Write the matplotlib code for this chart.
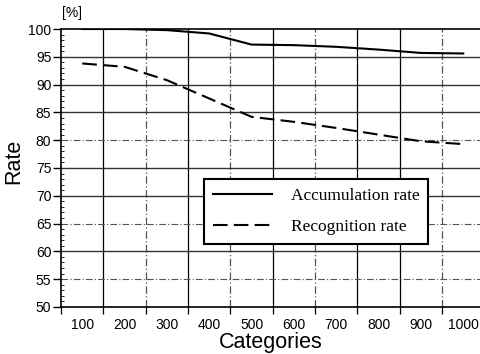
import matplotlib
matplotlib.use("Agg")
import matplotlib.pyplot as plt
from matplotlib.ticker import MultipleLocator, FixedLocator, NullFormatter

categories = ["100", "200", "300", "400", "500", "600", "700", "800", "900", "1000"]
accumulationRate = [100.0, 100.0, 99.8, 99.2, 97.2, 97.1, 96.8, 96.3, 95.7, 95.6]
recognitionRate = [93.8, 93.2, 90.8, 87.5, 84.2, 83.3, 82.2, 81.0, 79.8, 79.3]

plt.rcParams["font.family"] = ["Liberation Sans", "DejaVu Sans"]

fig = plt.figure(figsize=(4.81, 3.54), dpi=100)
ax = fig.add_axes([0.127, 0.133, 0.873, 0.785])

xPos = list(range(1, len(categories) + 1))

# grid, drawn by hand so the scan's mixed line styles can be copied
for gx in [1.5, 3.5, 5.5, 7.5, 8.5]:
    ax.axvline(gx, color="black", lw=0.9, zorder=1)
for gx in [2.5, 4.5, 6.5, 9.5]:
    ax.axvline(gx, color="#555555", lw=0.9, ls=(0, (6, 2, 1, 2)), zorder=1)
for gy in [95, 90, 85, 75, 70, 60]:
    ax.axhline(gy, color="#333333", lw=1.0, zorder=1)
for gy in [80, 65, 55]:
    ax.axhline(gy, color="#555555", lw=0.8, ls=(0, (6, 2, 1, 2)), zorder=1)

ax.plot(xPos, accumulationRate, color="black", lw=1.5, label="Accumulation rate", zorder=3)
ax.plot(xPos, recognitionRate, color="black", lw=1.5, ls=(0, (7, 3)), label="Recognition rate", zorder=3)

ax.set_xlim(0.5, 10.42)
ax.set_ylim(50, 100)

ax.xaxis.set_major_locator(FixedLocator([0.5 + i for i in range(10)]))
ax.xaxis.set_major_formatter(NullFormatter())
ax.xaxis.set_minor_locator(FixedLocator(xPos))
ax.set_xticklabels(categories, minor=True)
ax.tick_params(axis="x", which="major", direction="out", length=5, width=0.9)
ax.tick_params(axis="x", which="minor", length=0, labelsize=10, pad=8)

ax.yaxis.set_major_locator(MultipleLocator(5))
ax.yaxis.set_minor_locator(MultipleLocator(1))
ax.tick_params(axis="y", which="major", direction="out", length=6, width=1.0, labelsize=10, pad=1)
ax.tick_params(axis="y", which="minor", direction="in", length=2, width=0.6)

ax.spines["right"].set_visible(False)
for s in ["left", "bottom", "top"]:
    ax.spines[s].set_linewidth(1.2)

ax.set_xlabel("Categories", fontsize=15.5, labelpad=0)
ax.set_ylabel("Rate", fontsize=15.5)
ax.yaxis.set_label_coords(-0.088, 0.525)
fig.text(0.128, 0.943, "[%]", fontsize=10, ha="left", va="bottom")

leg = ax.legend(loc="upper left", bbox_to_anchor=(0.340, 0.460), borderaxespad=0, frameon=True,
                fancybox=False, edgecolor="black", prop={"family": "Liberation Serif", "size": 12.5},
                handlelength=3.4, borderpad=0.5, labelspacing=0.85, handletextpad=1.1)
leg.get_frame().set_linewidth(1.5)
leg.get_frame().set_alpha(1)
leg.set_zorder(5)

fig.savefig("out.png", dpi=100)
